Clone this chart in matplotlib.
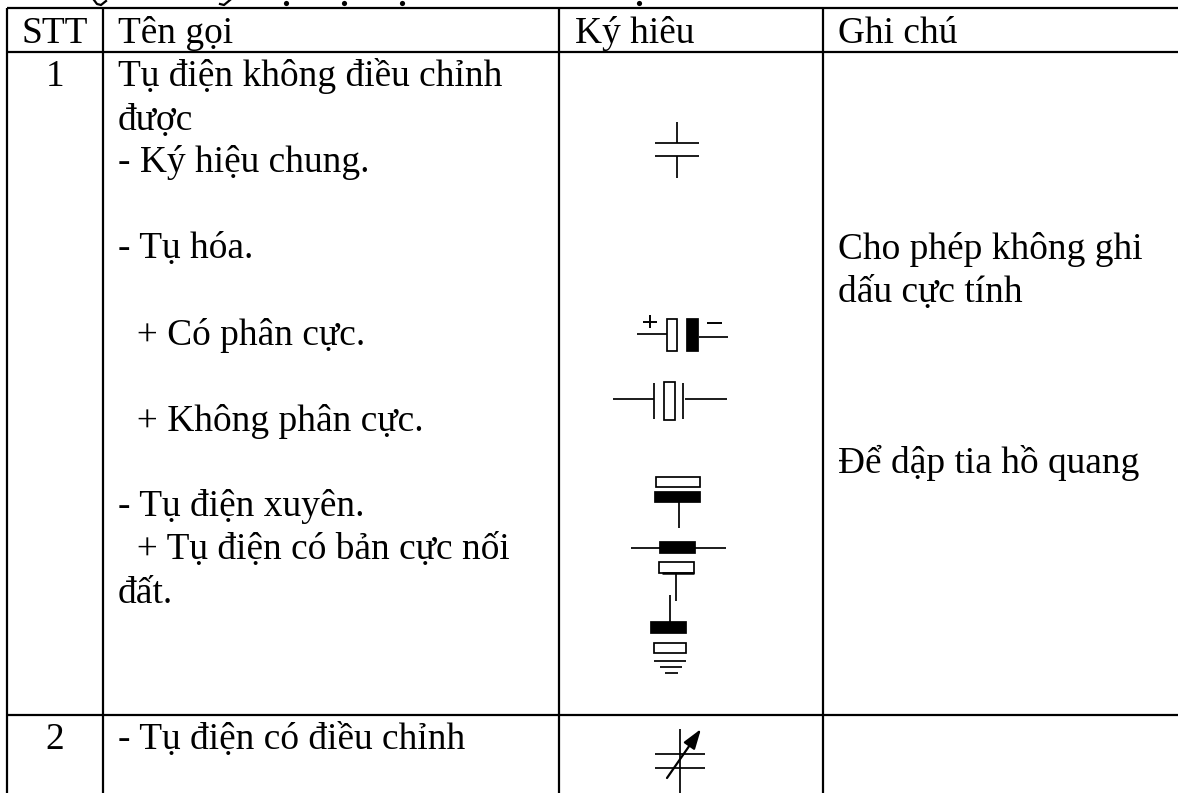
import matplotlib
matplotlib.use("Agg")
import matplotlib.pyplot as plt
from matplotlib.patches import Rectangle

plt.rcParams['font.family'] = ['Liberation Serif', 'DejaVu Serif']

W, H = 1178, 793
headers = ["STT", "Tên gọi", "Ký hiêu", "Ghi chú"]
col_edges = [7, 103, 559, 823]
row_edges = [7.5, 52, 715]
names_1 = [
    ("Tụ điện không điều chỉnh", 86),
    ("được", 130),
    ("- Ký hiệu chung.", 172),
    ("- Tụ hóa.", 258),
    ("  + Có phân cực.", 345),
    ("  + Không phân cực.", 431),
    ("- Tụ điện xuyên.", 516),
    ("  + Tụ điện có bản cực nối", 559),
    ("đất.", 603),
]
notes = [("Cho phép không ghi", 259), ("dấu cực tính", 302), ("Để dập tia hồ quang", 473)]
row_numbers = [("1", 86), ("2", 749)]
name_2 = ("- Tụ điện có điều chỉnh", 749)
title_dots_x = [286, 344, 402, 639]

fig = plt.figure(figsize=(W / 100, H / 100), dpi=100)
ax = fig.add_axes([0, 0, 1, 1])
ax.set_xlim(0, W)
ax.set_ylim(H, 0)
ax.axis("off")

FS = 26.9
for x in col_edges:
    ax.plot([x, x], [row_edges[0], H], color="black", lw=1.6, solid_capstyle="butt")
for y in row_edges:
    ax.plot([col_edges[0], W], [y, y], color="black", lw=1.6, solid_capstyle="butt")

# the line above the table is cropped: only the lowest parts of its letters remain
ax.scatter(title_dots_x, [3] * len(title_dots_x), s=14, color="black", linewidths=0)
ax.plot([94, 97, 101, 106], [0, 4, 5, 1], color="black", lw=1.6)
ax.plot([220, 224, 230], [4, 5, 0], color="black", lw=1.6)

ax.text(55, 43, headers[0], fontsize=FS, ha="center", va="baseline")
for x, t in zip([118, 575, 838], headers[1:]):
    ax.text(x, 43, t, fontsize=FS, ha="left", va="baseline")

for t, y in names_1:
    ax.text(118, y, t, fontsize=FS, ha="left", va="baseline")
for t, y in notes:
    ax.text(838, y, t, fontsize=FS, ha="left", va="baseline")
for t, y in row_numbers:
    ax.text(55, y, t, fontsize=FS, ha="center", va="baseline")
ax.text(118, name_2[1], name_2[0], fontsize=FS, ha="left", va="baseline")

def L(x0, y0, x1, y1, lw=1.25):
    ax.plot([x0, x1], [y0, y1], color="black", lw=lw, solid_capstyle="butt")

def R(x, y, w, h, fill=False):
    ax.add_patch(Rectangle((x, y), w, h, fc="black" if fill else "white", ec="black", lw=1.25))

# general capacitor
L(677, 122, 677, 143); L(655, 143, 699, 143); L(655, 156, 699, 156); L(677, 156, 677, 178)

# polarised
L(637, 334, 667, 334); L(643, 322, 657, 322, 1.4); L(650, 315, 650, 328, 1.4)
R(667, 319, 10, 32)
R(687, 319, 11, 32, True)
L(699, 337, 728, 337); L(707, 323, 722, 323, 1.4)

# non-polarised
L(613, 399, 654, 399); L(654, 383, 654, 419)
R(664, 382, 11, 38)
L(683, 383, 683, 419); L(685, 399, 727, 399)

# feed-through
R(656, 477, 44, 10); R(655, 492, 45, 10, True); L(679, 502, 679, 528)
L(631, 548, 660, 548); R(660, 542, 35, 11, True); L(695, 548, 726, 548)
R(659, 562, 35, 11); L(662, 573, 694, 573, 1.8); L(676, 573, 676, 601)
L(670, 595, 670, 622); R(651, 622, 35, 11, True)
R(654, 643, 32, 10)
L(654, 661, 686, 661); L(660, 667, 682, 667); L(665, 673, 678, 673)

# variable
L(680, 729, 680, 793)
L(655, 754, 705, 754); L(655, 768, 705, 768)
ax.annotate("", xy=(701, 729), xytext=(667, 778),
            arrowprops=dict(arrowstyle="-|>,head_width=0.4,head_length=1.2", color="black", lw=1.6, shrinkA=0, shrinkB=0))

fig.savefig("out.png", dpi=100)
